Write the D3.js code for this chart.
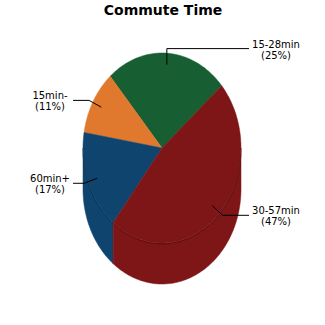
<!DOCTYPE html>
<html>
<head>
<meta charset="utf-8">
<script src="https://cdn.jsdelivr.net/npm/d3@7"></script>
<style>
  body { margin: 0; background: #fff; }
  svg { display: block; font-family: "DejaVu Sans", sans-serif; }
</style>
</head>
<body>
<div class="chart"></div>
<script>
// data (counter-clockwise from upper right)
let labels = ["15-28min", "15min-", "60min+", "30-57min"];
let values = [25, 11, 17, 47];
let colors = ["#175e33", "#e0792d", "#0f446f", "#7e1517"];

let width = 325, height = 325;
let cx = 162, cy = 148, rx = 79, ry = 95, depth = 41;

let svg = d3.select(".chart").append("svg")
  .attr("width", width).attr("height", height);

svg.append("text")
  .attr("x", 163).attr("y", 15)
  .attr("text-anchor", "middle")
  .style("font-size", "14px").style("font-weight", "bold")
  .text("Commute Time");

let start = 49 * Math.PI / 180;
let pie = d3.pie().sort(null).startAngle(start).endAngle(start - 2 * Math.PI);
let arcs = pie(values);

// point on the ellipse, d3 angle (clockwise from top)
function pt(a, k, dy) {
  return [cx + rx * k * Math.sin(a), cy - ry * k * Math.cos(a) + (dy || 0)];
}
function samples(a0, a1) {
  let n = Math.max(2, Math.ceil(Math.abs(a1 - a0) / 0.02));
  return d3.range(n + 1).map(i => a0 + (a1 - a0) * i / n);
}
let line = d3.line();

// sides (front half only)
let front = [[Math.PI / 2, 3 * Math.PI / 2], [-3 * Math.PI / 2, -Math.PI / 2]];
arcs.forEach((d, i) => {
  let lo = Math.min(d.startAngle, d.endAngle), hi = Math.max(d.startAngle, d.endAngle);
  front.forEach(f => {
    let a0 = Math.max(lo, f[0]), a1 = Math.min(hi, f[1]);
    if (a1 <= a0) return;
    let top = samples(a0, a1).map(a => pt(a, 1));
    let bot = samples(a1, a0).map(a => pt(a, 1, depth));
    svg.append("path")
      .attr("d", line(top.concat(bot)) + "Z")
      .attr("fill", colors[i])
      .attr("stroke", colors[i]).attr("stroke-width", 0.5);
  });
});

// top faces
arcs.forEach((d, i) => {
  let pts = [[cx, cy]].concat(samples(d.startAngle, d.endAngle).map(a => pt(a, 1)));
  svg.append("path")
    .attr("d", line(pts) + "Z")
    .attr("fill", colors[i])
    .attr("stroke", colors[i]).attr("stroke-width", 0.5);
});

// faint rim between top face and side
svg.append("path")
  .attr("d", line(samples(Math.PI / 2 + 0.05, 3 * Math.PI / 2 - 0.05).map(a => pt(a, 1, 1))))
  .attr("fill", "none")
  .attr("stroke", "rgba(0,0,0,0.25)").attr("stroke-width", 1);

// leader lines and labels
arcs.forEach((d, i) => {
  let mid = (d.startAngle + d.endAngle) / 2;
  let p0 = pt(mid, 0.88);
  let right = Math.sin(mid) > 0;
  let p1 = [p0[0] + 14 * Math.sin(mid), p0[1] - 14 * Math.cos(mid)];
  if (Math.abs(Math.cos(mid)) > 0.95) p1 = [p0[0], p0[1] - 16 * Math.sign(Math.cos(mid))];
  let xEnd = right ? 249 : 73;
  svg.append("path")
    .attr("d", line([p0, p1, [xEnd, p1[1]]]))
    .attr("fill", "none").attr("stroke", "#000").attr("stroke-width", 1);
  let tx = right ? xEnd + 27 : xEnd - 23;
  let t = svg.append("text")
    .attr("text-anchor", "middle")
    .style("font-size", "10px");
  t.append("tspan").attr("x", tx).attr("y", p1[1] - 1).text(labels[i]);
  t.append("tspan").attr("x", tx).attr("y", p1[1] + 10).text("(" + values[i] + "%)");
});
</script>
</body>
</html>
